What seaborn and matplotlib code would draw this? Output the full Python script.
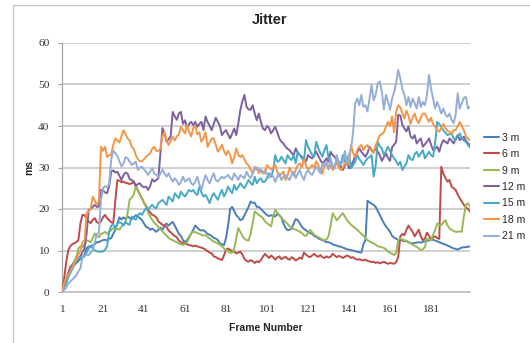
import numpy as np
import pandas as pd
import seaborn as sns
import matplotlib
matplotlib.use("Agg")
import matplotlib.pyplot as plt
from matplotlib.lines import Line2D

# ---------------- data ----------------
series_names = ["3 m", "6 m", "9 m", "12 m", "15 m", "18 m", "21 m"]
series_colors = ["#4A7EBB", "#BE4B48", "#98B954", "#7D60A0", "#46AAC5", "#F69545", "#94AED8"]
frames = list(range(1, 201))
x_tick_values = [1, 21, 41, 61, 81, 101, 121, 141, 161, 181]
y_tick_values = [0, 10, 20, 30, 40, 50, 60]

s3 = [
    0, 1.5, 3, 4, 5, 6, 6.5, 7, 7.5, 8,
    8.5, 9, 10.5, 11, 11, 11.3, 11.5, 12, 12, 12.3,
    12.5, 12.6, 12.4, 12.8, 13, 14, 15, 16.5, 18, 17.5,
    18, 17.5, 18.2, 17.8, 17.5, 18, 18.5, 18.2, 17.8, 17.3,
    16.5, 15.7, 15.5, 15, 15.3, 14.9, 14.5, 15, 15.5, 15,
    16, 16.5, 16, 16.5, 16.9, 16, 15, 14, 13.5, 12.5,
    12, 12.5, 13.3, 14, 15, 16, 15.5, 15, 14.8, 14.9,
    14.5, 14, 13.8, 13.5, 13, 12.9, 12.5, 11.7, 11.5, 11.3,
    13, 16, 20, 20.5, 19.5, 18.5, 18, 17.3, 17.5, 18.5,
    19.5, 20.5, 21.8, 21.5, 21.5, 20.5, 20.5, 20, 19.5, 19,
    18.5, 18.3, 18.5, 18.3, 18.2, 18.8, 18.5, 18, 16.5, 15.5,
    14.9, 15, 15.3, 16.5, 17.6, 17.3, 16.5, 15.7, 15.2, 14.9,
    14.5, 14.2, 14, 13.5, 13.3, 12.9, 12.7, 12.5, 12.3, 12,
    12, 11.8, 11.5, 11.3, 11.2, 11, 10.9, 10.7, 10.5, 10.3,
    10.2, 10.1, 10, 9.8, 9.7, 9.6, 9.5, 11.5, 12.5, 22,
    21.6, 21.3, 21, 20.5, 19.5, 18.6, 17.5, 16.6, 15.8, 15.2,
    14.5, 13.5, 13.1, 12.8, 12.6, 12.5, 12.4, 12.2, 12.3, 12,
    11.8, 11.7, 11.8, 11.9, 12, 11.9, 12.1, 12.2, 12.3, 12.4,
    12.5, 12.6, 12.4, 12.2, 12, 11.8, 11.6, 11.4, 11.2, 11,
    10.7, 10.5, 10.4, 10.2, 10.5, 10.7, 10.8, 10.8, 10.9, 11]

s6 = [
    0, 3, 7, 10, 11, 11.5, 11.8, 12, 12.5, 16.6,
    18.6, 18.5, 17.8, 17, 16.6, 17.4, 17.8, 16.8, 16.6, 17,
    18, 18.6, 17.8, 17.3, 16.8, 16.6, 22, 27, 26.8, 26.5,
    26.6, 26.3, 26.2, 26, 26.2, 26.6, 25.5, 24.5, 23.5, 22.6,
    21.5, 20.8, 19.8, 19.2, 18.6, 18.4, 18, 17, 16.6, 16.2,
    15.9, 15.7, 14.8, 14.4, 13.9, 13.5, 13.2, 12.4, 12, 11.8,
    11.6, 11.5, 11.3, 11.2, 11, 11.2, 11, 10.8, 10.7, 10.5,
    10.2, 9.8, 9.5, 9.3, 8.6, 8.4, 8.1, 7.9, 7.7, 8.8,
    10.2, 10.5, 10.1, 9.9, 9.7, 9.3, 9.5, 9.7, 9, 8,
    7.5, 7.3, 7.7, 7.4, 7, 7.4, 7.2, 7.7, 8.5, 9.2,
    8.7, 8.2, 8.8, 8.4, 7.8, 8.3, 8.6, 7.9, 8.2, 8.5,
    8, 7.8, 8.4, 8.1, 7.6, 7.9, 8.3, 8, 9.5, 9,
    8.6, 8.4, 8.8, 9.2, 8.7, 8.5, 8.9, 8.4, 8.2, 8.6,
    8.3, 8.5, 9.2, 8.8, 8.4, 8.7, 8.5, 8.2, 8.5, 8.8,
    8.6, 8.2, 8.4, 8, 7.8, 7.9, 7.7, 7.6, 7.8, 7.5,
    7.4, 7.2, 7.3, 7, 7.2, 6.9, 7.1, 7.3, 7, 6.8,
    7, 6.9, 6.8, 7.2, 8.5, 13.4, 14, 13.7, 15, 16,
    15.2, 14.5, 13.4, 14.2, 15, 13.4, 12.5, 12.9, 14.3, 13.6,
    12.6, 13.2, 13.4, 13, 12.8, 30.2, 28.5, 27.5, 26.6, 27,
    25.4, 25, 24.6, 23.5, 22.6, 21.8, 21, 20.4, 20, 19.4]

s9 = [
    0, 1.5, 3, 4.5, 5.7, 6.5, 7.5, 8.5, 10.5, 11,
    10.8, 11.5, 12.5, 12.3, 12, 13, 14.1, 13.5, 13.2, 14,
    14.2, 14.5, 14, 14.5, 14.9, 15.4, 15.3, 15.2, 15, 15.8,
    16.3, 16.8, 19, 22.3, 22.7, 23.5, 25.5, 24.5, 23.5, 22.5,
    21.5, 20.5, 19.2, 18.2, 17.4, 16.7, 16.2, 15.7, 15.2, 14.6,
    14, 13.6, 13, 12.7, 12.5, 12.2, 12, 11.7, 11.5, 11.3,
    11.6, 12, 13, 14.2, 14.5, 14.4, 14.2, 14, 13.8, 13.6,
    13.7, 13.3, 12.9, 12.5, 12.1, 11.9, 11.7, 11.4, 11, 10.5,
    10.2, 9.8, 9.4, 9.5, 10.5, 13, 15.4, 14.5, 13.5, 12.8,
    12.5, 12.4, 14, 16.6, 19.4, 19, 18.6, 18.2, 17.8, 17,
    16.6, 16.2, 15.8, 18.2, 19.8, 19.2, 18.5, 17.8, 17.4, 16.9,
    16.4, 15.8, 15.5, 15.2, 15, 14.8, 14.5, 14.2, 13.7, 13.5,
    14.2, 15, 14.4, 13.8, 13.5, 13.2, 12.9, 12.7, 12.5, 12.6,
    13.5, 16, 19, 18.2, 17.3, 17.8, 18.5, 19, 18.2, 17.3,
    16.8, 16.2, 15.8, 15.4, 15, 14.5, 14, 13.6, 13, 12.5,
    12.2, 11.9, 11.7, 11.4, 11, 10.9, 10.8, 10.6, 10.3, 9.8,
    9.4, 9.2, 8.9, 9.5, 12.5, 12.9, 12.6, 12.5, 12.3, 12,
    11.7, 11.4, 11.1, 10.9, 10.5, 10.1, 10.3, 10.8, 12.9, 12.6,
    12.5, 13.8, 15, 16.5, 16.2, 16.1, 16.8, 17.3, 16.1, 15.3,
    15, 14.7, 14.5, 14.5, 14.6, 14.5, 18.2, 21, 21.4, 20.5]

s12 = [
    0, 1.5, 3, 4.5, 6, 6.5, 7, 7.5, 8, 8.6,
    9.7, 10.5, 14, 19.8, 20, 20.5, 21, 20.5, 20.6, 24.6,
    24.5, 24, 23.8, 25.5, 29, 29.3, 28.8, 29, 28, 27,
    28.2, 28.8, 28.5, 27.2, 27, 26.6, 25.6, 26, 26.2, 25.5,
    25.2, 25.4, 24.6, 25.5, 27.2, 26.6, 27, 27.4, 33.4, 39.5,
    38.2, 36.2, 36.8, 37.5, 43.4, 42.3, 41.5, 43, 43.4, 40.5,
    41.4, 39.4, 40.5, 41, 40.2, 41, 39.8, 40.5, 41, 39,
    42.3, 41, 40, 39, 40.5, 42, 41, 40, 37.8, 38.5,
    39, 38, 37, 38.2, 39.4, 37.8, 40.6, 43.9, 46, 47.5,
    44.6, 44, 43.9, 45, 43, 41.4, 43, 41, 39.4, 39,
    40, 39.5, 38.2, 39, 39.8, 38.5, 37, 36.2, 35.8, 35,
    34.5, 34.2, 33.5, 33, 34.6, 33.5, 33, 32.6, 32, 31.4,
    33, 32.5, 32.2, 33, 33.8, 32.8, 31.8, 31, 31.5, 32.2,
    31.4, 33.8, 33, 32.6, 31.4, 30.8, 30.2, 29.4, 30.5, 31.4,
    29.8, 30.6, 31.4, 33, 33.6, 34.6, 33.8, 33.2, 32.6, 33.5,
    35, 34.2, 33.8, 34.6, 33.8, 33, 31.6, 32.5, 33.4, 32.3,
    31.6, 34.9, 35.5, 36.2, 42.7, 42.5, 40.3, 39.4, 38.7, 39.9,
    37.5, 37, 37.8, 35.8, 36.5, 37, 35, 35.6, 36.2, 37,
    35.5, 34.2, 34.6, 35, 33.8, 35.5, 36.6, 36.2, 35.8, 37,
    36.5, 35.8, 36.8, 37.8, 36.6, 37, 37.4, 36.5, 35.8, 35.4]

s15 = [
    0, 1, 2, 3.5, 4.5, 5.5, 6.5, 7.5, 8, 8.5,
    8.3, 8.6, 9.5, 10.5, 11, 10.5, 10, 9.8, 9.7, 9.7,
    9.8, 10.2, 11, 14.5, 16, 16.2, 15.5, 16.5, 16.8, 16.6,
    16, 16.9, 16.4, 16.2, 18.2, 17.8, 17.4, 18.5, 19, 18.6,
    19.5, 20.2, 19.8, 20.5, 21, 20.4, 20.2, 21.4, 21.8, 22.2,
    21.6, 21, 23, 22.4, 21.8, 23.8, 23.2, 22.6, 24.2, 23.5,
    23, 23.8, 24.6, 24.2, 24.6, 23.8, 23.4, 25.4, 24, 23,
    23.4, 22.5, 21.4, 23, 23.8, 23, 22.2, 23.5, 24.6, 23,
    24, 25.4, 24.5, 23.8, 25.8, 24.6, 25.3, 26.2, 25.5, 25,
    26, 27, 26.2, 25.8, 27.8, 26.2, 27, 27.4, 26.5, 26.6,
    27.5, 28.6, 27.8, 29.4, 33, 31.4, 31.6, 32.6, 31.8, 31,
    33, 32.2, 31.8, 33, 31, 33.8, 33, 32.2, 31.4, 36.6,
    35, 34, 33, 32.6, 36.2, 34.6, 33.5, 32.6, 34.2, 35.4,
    32.2, 31.8, 30.5, 29.8, 32.2, 31.5, 30.6, 33, 31.4, 32,
    33, 29.8, 30.6, 31.4, 33, 32, 31.4, 30.6, 31.5, 32.2,
    32.5, 33, 27.8, 30.5, 36.2, 35.2, 34.6, 33, 34, 35,
    34, 33, 32.2, 31.5, 30.6, 31.4, 29.4, 30.2, 31, 33,
    32, 31.8, 33.2, 33.8, 32.6, 33.4, 34.2, 32.2, 33, 33.8,
    33, 32.6, 36, 41, 40.5, 39.8, 38.9, 38.4, 37.8, 38,
    38.2, 37, 36.6, 37.5, 38.2, 37, 36.5, 36.2, 35.5, 34.8]

s18 = [
    0, 2, 3.5, 4, 5, 6, 7, 8, 9, 10,
    12, 12.5, 19, 19.5, 20, 23, 22, 21, 22, 35,
    34, 35, 32.5, 33, 33, 35.5, 37, 36.5, 36, 37.5,
    39, 38, 37, 36.5, 35, 34.5, 33, 32, 31.5, 31.5,
    32, 32.6, 33, 33.4, 34.5, 35, 34, 34, 34.5, 37.5,
    38.6, 36.5, 35.4, 36.5, 37.4, 36.5, 37.5, 38, 39.8, 39,
    38.2, 40.2, 38.5, 37.5, 39.5, 40, 38, 38.5, 36.2, 37,
    38.5, 35, 36, 37, 37, 35.5, 33.8, 34.5, 35.5, 34,
    33, 34, 33, 31, 32.5, 34.6, 33, 32.5, 33, 32,
    31, 30.5, 29.5, 28.6, 29.5, 30, 28.6, 29.5, 29, 28.5,
    30.6, 30, 29.5, 30, 30.6, 29, 27.8, 28.5, 29, 27,
    28, 30, 29, 28, 29.5, 30.5, 31, 30, 32, 30.5,
    29.5, 30, 30.6, 30, 31.5, 30.5, 29.5, 28.5, 30.6, 30.5,
    30, 30.6, 29.4, 30, 31.5, 30, 29.4, 30, 31, 30.6,
    31.5, 35.4, 33.5, 32.5, 34.2, 35, 35.4, 34.2, 35, 35.4,
    34.5, 34, 33.5, 35.4, 36.5, 37.8, 38, 38.5, 39.8, 41,
    40, 42.3, 38.5, 43.5, 45, 44.5, 43, 41.8, 43.7, 42.5,
    40.5, 42, 43, 41.5, 40.7, 42, 43, 43, 42, 41,
    42, 40.5, 39.8, 39, 38.6, 39.5, 40.5, 39.5, 38.8, 38.6,
    38, 39, 39, 40, 41, 40, 39, 37.5, 37, 36.5]

s21 = [
    0, 0.5, 1, 2, 2.5, 3, 3.5, 4, 5, 5.7,
    8.5, 8.7, 9, 8.9, 9.5, 10.1, 12, 14, 14.2, 22.2,
    25, 25.5, 25.2, 26, 32, 34, 33.5, 32.8, 31.5, 30.3,
    31, 32.5, 32.2, 31.4, 30.6, 31, 31.4, 29.4, 30, 30.2,
    29.5, 29, 28.2, 29, 29.8, 28.6, 28.2, 27.8, 28.5, 29.5,
    28.5, 27.8, 28.6, 27.5, 26.6, 27.4, 26.8, 25.8, 26.5, 27.8,
    26.6, 27, 27.4, 26.2, 25.8, 26.5, 27.8, 26, 24.6, 26.5,
    28.2, 27, 26.2, 27.5, 28.6, 27, 26.6, 27.2, 27.8, 27.4,
    27.8, 28.2, 27.5, 27, 28.6, 27.8, 27, 28.2, 27.8, 27.4,
    29, 28, 27.4, 28.5, 30.2, 29.4, 29.8, 29, 28.5, 29.4,
    28.5, 27.5, 28.6, 27.8, 26.5, 27.8, 28.5, 27, 27.8, 28.2,
    27.5, 27, 28.2, 29, 27.4, 28.5, 29.4, 28, 27, 28.6,
    29.4, 28.6, 28.2, 29.2, 30.2, 29.5, 28.6, 31, 30.4, 31.4,
    29.5, 32.2, 30.5, 29.8, 33, 31, 30.6, 31.4, 34, 31,
    33, 34.6, 38.6, 45.4, 46.6, 45, 47.5, 44.6, 45, 43.5,
    46.6, 49.9, 46.2, 47.5, 50.3, 50.7, 48.2, 44, 47.5, 45.9,
    43.9, 46.6, 48.2, 50.5, 53.5, 51.5, 49, 47.5, 45, 47,
    44.6, 46.6, 45.5, 44.2, 47, 44.6, 45.8, 45, 47.5, 52.3,
    49, 46.6, 44.2, 45.8, 44.5, 43, 44.2, 42.8, 42.2, 43,
    41.5, 40.7, 42.7, 47.9, 44.2, 45.5, 46.8, 47, 44.2, 44.6]

all_values = [s3, s6, s9, s12, s15, s18, s21]
for name, vals in zip(series_names, all_values):
    assert len(vals) == len(frames), (name, len(vals))

# long-form table built from the arrays above
df = pd.DataFrame({
    "frame": np.tile(frames, len(series_names)),
    "ms": np.concatenate([np.asarray(v, dtype=float) for v in all_values]),
    "series": np.repeat(series_names, len(frames)),
})

# ---------------- figure ----------------
sns.set_theme(style="white")
plt.rcParams["font.family"] = ["Liberation Sans", "DejaVu Sans"]

W, H = 530, 343
fig = plt.figure(figsize=(W / 100, H / 100), dpi=100)
ax = fig.add_axes([62 / W, 1 - 292 / H, (470 - 62) / W, (292 - 43) / H])

palette = dict(zip(series_names, series_colors))
sns.lineplot(data=df, x="frame", y="ms", hue="series", hue_order=series_names,
             palette=palette, estimator=None, linewidth=1.4, legend=False, ax=ax,
             zorder=3)

ax.set_xlim(1, 200)
ax.set_ylim(0, 60)
ax.set_xticks(x_tick_values)
ax.set_yticks(y_tick_values)
ax.set_xticklabels([str(v) for v in x_tick_values], family=["Liberation Serif"], fontsize=8.2)
ax.set_yticklabels([str(v) for v in y_tick_values], family=["Liberation Serif"], fontsize=8.2)
ax.tick_params(axis="x", length=0, pad=9, labelcolor="#333333")
ax.tick_params(axis="y", length=3, width=0.8, pad=6, direction="out",
               labelcolor="#333333", color="#A0A0A0", left=True)

ax.grid(axis="y", color="#C4C4C4", linewidth=1.1, zorder=0)
ax.grid(axis="x", visible=False)
for side in ["top", "right"]:
    ax.spines[side].set_visible(False)
ax.spines["left"].set_color("#A6A6A6")
ax.spines["left"].set_linewidth(0.9)
ax.spines["bottom"].set_color("#BDBDBD")
ax.spines["bottom"].set_linewidth(1.1)

ax.set_xlabel("Frame Number", fontsize=7.5, fontweight="bold", labelpad=7)
ax.set_ylabel("ms", fontsize=7.5, fontweight="bold", labelpad=3)
fig.text(270 / W, 1 - 20 / H, "Jitter", ha="center", va="center",
         fontsize=10.5, fontweight="bold")

handles = [Line2D([0], [0], color=c, linewidth=1.5) for c in series_colors]
fig.legend(handles, series_names, loc="center left",
           bbox_to_anchor=(484 / W, 1 - 187 / H), frameon=False,
           fontsize=7.5, handlelength=1.45, handletextpad=0.25,
           labelspacing=0.62, borderpad=0, borderaxespad=0)

# chart-area border (left and top edges visible in the reference)
border = "#C8C8C8"
fig.add_artist(Line2D([13 / W, 13 / W], [0, 1 - 5 / H], transform=fig.transFigure,
                      color=border, linewidth=1.0))
fig.add_artist(Line2D([13 / W, 1], [1 - 5 / H, 1 - 5 / H], transform=fig.transFigure,
                      color=border, linewidth=1.0))

fig.savefig("out.png", dpi=100)
